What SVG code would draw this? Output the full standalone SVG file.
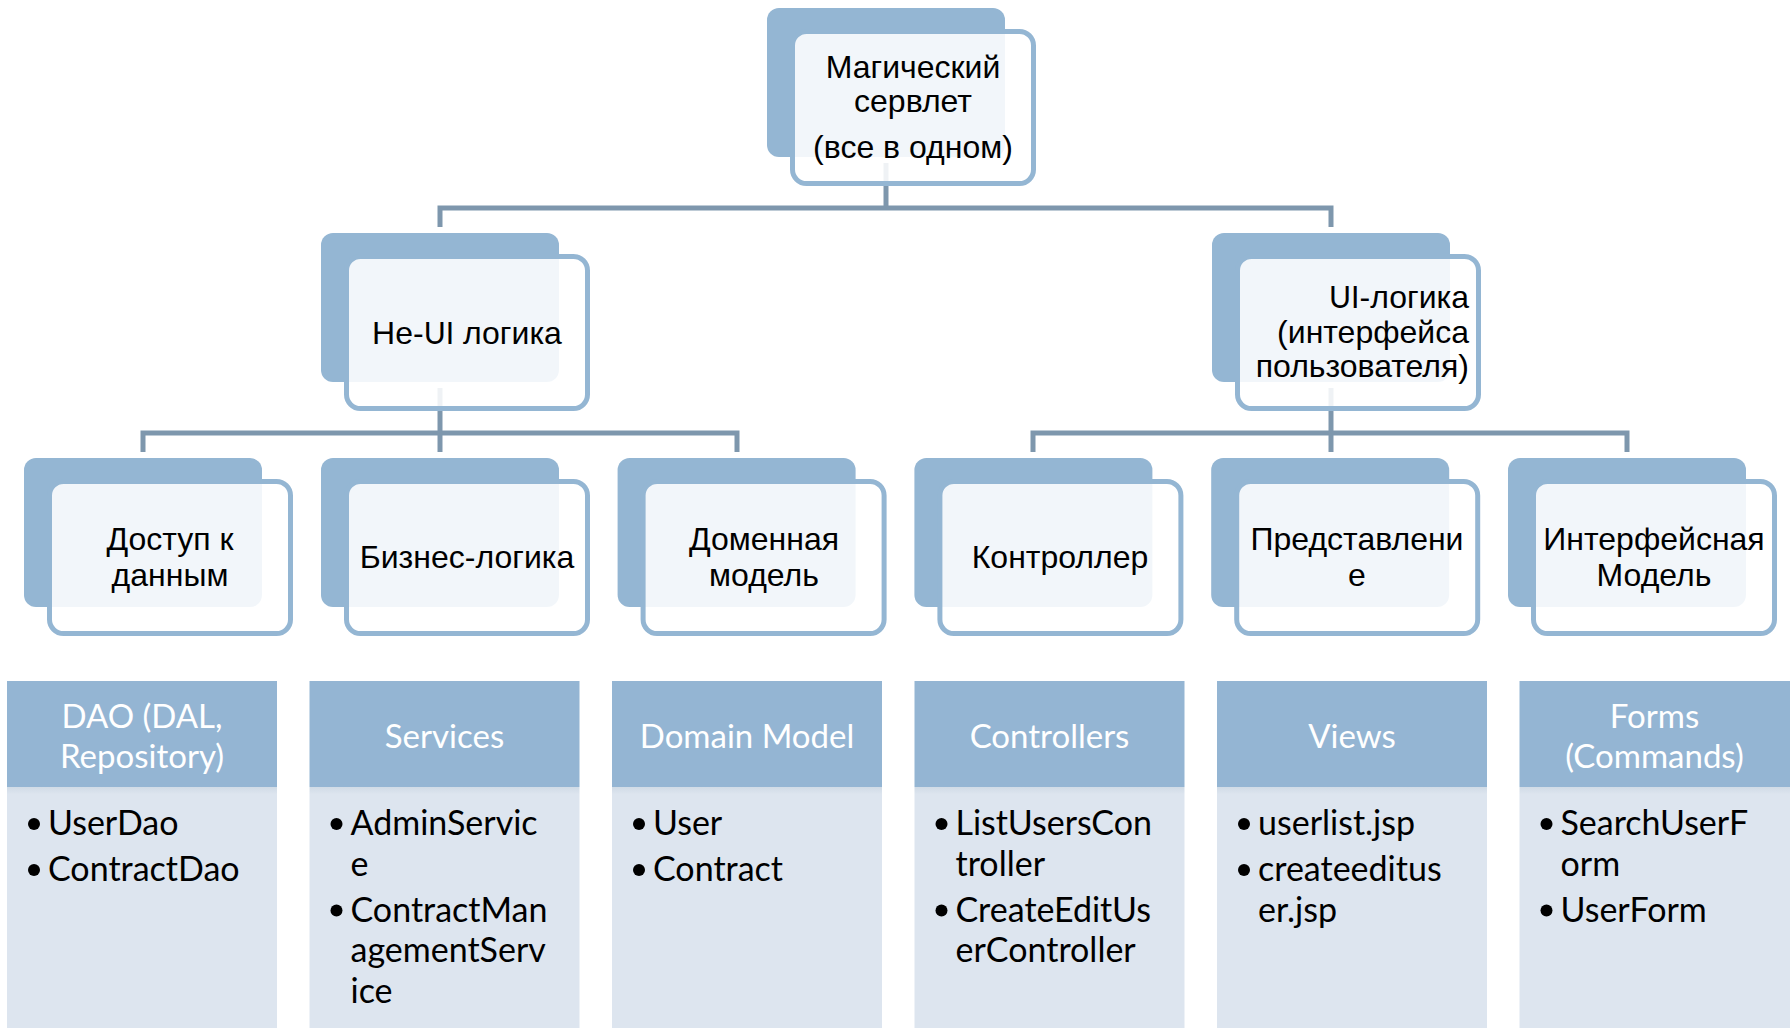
<svg xmlns="http://www.w3.org/2000/svg" width="1790" height="1028" viewBox="0 0 1790 1028">
<defs>
<style>
.back{fill:#94b6d3}
.front{fill:#ffffff;fill-opacity:0.88;stroke:#94b6d3;stroke-width:5}
.conn{fill:none;stroke:#7e97ad;stroke-width:5;stroke-linejoin:miter}
.nt{font-family:"Liberation Sans",Arial,sans-serif;font-size:32px;fill:#000;text-anchor:middle}
.ui{font-family:Lato,"Liberation Sans",sans-serif;font-size:30px}
.hd{fill:#94b5d3}
.bd{fill:url(#bodyg)}
.ht{font-family:Lato,"Liberation Sans",sans-serif;font-size:33px;fill:#fff;text-anchor:middle}
.bt{font-family:Lato,"Liberation Sans",sans-serif;font-size:34px;fill:#000}
.bl{fill:#000}
</style>
<linearGradient id="bodyg" x1="0" y1="0" x2="0" y2="1">
<stop offset="0" stop-color="#d0dbe6"/>
<stop offset="0.03" stop-color="#dde5ef"/>
<stop offset="1" stop-color="#dde5ef"/>
</linearGradient>
</defs>
<rect width="1790" height="1028" fill="#fff"/>

<g id="connectors">
<path class="conn" d="M886,163 V208"/>
<path class="conn" d="M440,227 V208 H1331 V227"/>
<path class="conn" d="M440,388 V452"/>
<path class="conn" d="M143,452 V433 H737 V452"/>
<path class="conn" d="M1331,388 V452"/>
<path class="conn" d="M1033,452 V433 H1627 V452"/>
</g>

<g id="node-servlet">
<rect class="back" x="767" y="8" width="238" height="149" rx="12"/>
<rect class="front" x="792.5" y="31.5" width="241" height="152" rx="14"/>
<text class="nt" x="913" y="78">Магический</text>
<text class="nt" x="913" y="112">сервлет</text>
<text class="nt" x="913" y="158">(все в одном)</text>
</g>

<g id="node-nonui">
<rect class="back" x="321" y="233" width="238" height="149" rx="12"/>
<rect class="front" x="346.5" y="256.5" width="241" height="152" rx="14"/>
<text class="nt" x="467" y="344">Не-<tspan class="ui">UI</tspan> логика</text>
</g>

<g id="node-ui">
<rect class="back" x="1212" y="233" width="238" height="149" rx="12"/>
<rect class="front" x="1237.5" y="256.5" width="241" height="152" rx="14"/>
<text class="nt" style="text-anchor:end" x="1469" y="308"><tspan class="ui">UI</tspan>-логика</text>
<text class="nt" style="text-anchor:end" x="1469" y="343">(интерфейса</text>
<text class="nt" style="text-anchor:end" x="1469" y="377">пользователя)</text>
</g>

<g id="node-data">
<rect class="back" x="24" y="458" width="238" height="149" rx="12"/>
<rect class="front" x="49.5" y="481.5" width="241" height="152" rx="14"/>
<text class="nt" x="170" y="550">Доступ к</text>
<text class="nt" x="170" y="586">данным</text>
</g>

<g id="node-business">
<rect class="back" x="321" y="458" width="238" height="149" rx="12"/>
<rect class="front" x="346.5" y="481.5" width="241" height="152" rx="14"/>
<text class="nt" x="467" y="568">Бизнес-логика</text>
</g>

<g id="node-domain">
<rect class="back" x="617.6" y="458" width="238" height="149" rx="12"/>
<rect class="front" x="643.1" y="481.5" width="241" height="152" rx="14"/>
<text class="nt" x="764" y="550">Доменная</text>
<text class="nt" x="764" y="586">модель</text>
</g>

<g id="node-controller">
<rect class="back" x="914.4" y="458" width="238" height="149" rx="12"/>
<rect class="front" x="939.9" y="481.5" width="241" height="152" rx="14"/>
<text class="nt" x="1060" y="568">Контроллер</text>
</g>

<g id="node-view">
<rect class="back" x="1211.2" y="458" width="238" height="149" rx="12"/>
<rect class="front" x="1236.7" y="481.5" width="241" height="152" rx="14"/>
<text class="nt" x="1357" y="550">Представлени</text>
<text class="nt" x="1357" y="586">е</text>
</g>

<g id="node-uimodel">
<rect class="back" x="1508" y="458" width="238" height="149" rx="12"/>
<rect class="front" x="1533.5" y="481.5" width="241" height="152" rx="14"/>
<text class="nt" x="1654" y="550">Интерфейсная</text>
<text class="nt" x="1654" y="586">Модель</text>
</g>

<g id="table-dao">
<rect class="hd" x="7" y="681" width="270" height="106"/>
<rect class="bd" x="7" y="787" width="270" height="241"/>
<text class="ht" x="142" y="728">DAO (DAL,</text>
<text class="ht" x="142" y="768">Repository)</text>
<circle class="bl" cx="34" cy="824" r="6"/>
<text class="bt" x="48" y="835">UserDao</text>
<circle class="bl" cx="34" cy="870" r="6"/>
<text class="bt" x="48" y="881">ContractDao</text>
</g>

<g id="table-services">
<rect class="hd" x="309.5" y="681" width="270" height="106"/>
<rect class="bd" x="309.5" y="787" width="270" height="241"/>
<text class="ht" x="444.5" y="748">Services</text>
<circle class="bl" cx="336.5" cy="824" r="6"/>
<text class="bt" x="350.5" y="835">AdminServic</text>
<text class="bt" x="350.5" y="875.5">e</text>
<circle class="bl" cx="336.5" cy="910.5" r="6"/>
<text class="bt" x="350.5" y="921.5">ContractMan</text>
<text class="bt" x="350.5" y="962">agementServ</text>
<text class="bt" x="350.5" y="1002.5">ice</text>
</g>

<g id="table-domain">
<rect class="hd" x="612" y="681" width="270" height="106"/>
<rect class="bd" x="612" y="787" width="270" height="241"/>
<text class="ht" x="747" y="748">Domain Model</text>
<circle class="bl" cx="639" cy="824" r="6"/>
<text class="bt" x="653" y="835">User</text>
<circle class="bl" cx="639" cy="870" r="6"/>
<text class="bt" x="653" y="881">Contract</text>
</g>

<g id="table-controllers">
<rect class="hd" x="914.5" y="681" width="270" height="106"/>
<rect class="bd" x="914.5" y="787" width="270" height="241"/>
<text class="ht" x="1049.5" y="748">Controllers</text>
<circle class="bl" cx="941.5" cy="824" r="6"/>
<text class="bt" x="955.5" y="835">ListUsersCon</text>
<text class="bt" x="955.5" y="875.5">troller</text>
<circle class="bl" cx="941.5" cy="910.5" r="6"/>
<text class="bt" x="955.5" y="921.5">CreateEditUs</text>
<text class="bt" x="955.5" y="962">erController</text>
</g>

<g id="table-views">
<rect class="hd" x="1217" y="681" width="270" height="106"/>
<rect class="bd" x="1217" y="787" width="270" height="241"/>
<text class="ht" x="1352" y="748">Views</text>
<circle class="bl" cx="1244" cy="824" r="6"/>
<text class="bt" x="1258" y="835">userlist.jsp</text>
<circle class="bl" cx="1244" cy="870" r="6"/>
<text class="bt" x="1258" y="881">createeditus</text>
<text class="bt" x="1258" y="921.5">er.jsp</text>
</g>

<g id="table-forms">
<rect class="hd" x="1519.5" y="681" width="270.5" height="106"/>
<rect class="bd" x="1519.5" y="787" width="270.5" height="241"/>
<text class="ht" x="1654.5" y="728">Forms</text>
<text class="ht" x="1654.5" y="768">(Commands)</text>
<circle class="bl" cx="1546.5" cy="824" r="6"/>
<text class="bt" x="1560.5" y="835">SearchUserF</text>
<text class="bt" x="1560.5" y="875.5">orm</text>
<circle class="bl" cx="1546.5" cy="910.5" r="6"/>
<text class="bt" x="1560.5" y="921.5">UserForm</text>
</g>
</svg>
